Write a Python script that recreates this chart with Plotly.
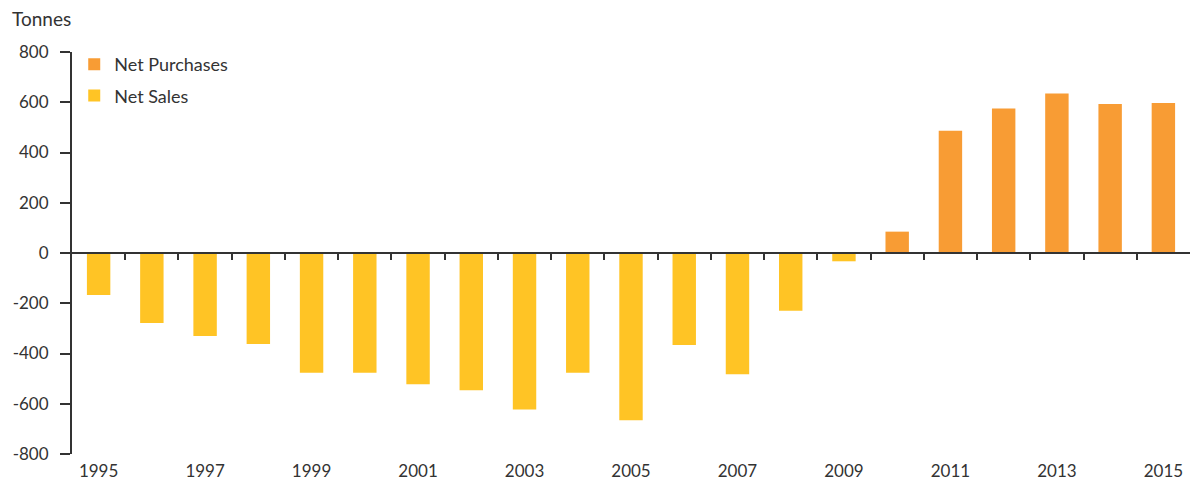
import plotly.graph_objects as go

# Annual central-bank gold flows, tonnes
years = list(range(1995, 2016))
net_flow = [-167, -279, -330, -362, -477, -477, -522, -546, -623, -477,
            -666, -366, -483, -230, -33, 85, 487, 575, 635, 593, 597]

purchase_years = [y for y, v in zip(years, net_flow) if v >= 0]
purchase_vals = [v for v in net_flow if v >= 0]
sale_years = [y for y, v in zip(years, net_flow) if v < 0]
sale_vals = [v for v in net_flow if v < 0]

y_ticks = [-800, -600, -400, -200, 0, 200, 400, 600, 800]
y_tick_text = [str(v) for v in y_ticks]  # plain hyphen for negatives
x_label_years = list(range(1995, 2016, 2))
boundaries = [y + 0.5 for y in years[:-1]]

ORANGE = "#F89C34"
YELLOW = "#FFC425"
INK = "#333333"
FONT = "Lato, Roboto, sans-serif"

fig = go.Figure()
fig.add_trace(go.Bar(x=purchase_years, y=purchase_vals, name="Net Purchases",
                     marker=dict(color=ORANGE, line=dict(width=0)), width=0.44,
                     legendgroup="a"))
fig.add_trace(go.Bar(x=sale_years, y=sale_vals, name="Net Sales",
                     marker=dict(color=YELLOW, line=dict(width=0)), width=0.44,
                     legendgroup="b"))
# carrier trace for the zero-line axis with boundary ticks
fig.add_trace(go.Scatter(x=[years[0]], y=[0], xaxis="x2", mode="markers",
                         marker=dict(opacity=0), showlegend=False, hoverinfo="skip"))

fig.update_layout(
    width=1190, height=482,
    margin=dict(l=72, r=0, t=52, b=28),
    paper_bgcolor="white", plot_bgcolor="white",
    font=dict(family=FONT, size=17, color=INK),
    barmode="relative",
    showlegend=True,
    legend=dict(x=0.002, y=1 + 6 / 402, xanchor="left", yanchor="top",
                traceorder="grouped", tracegroupgap=5,
                font=dict(size=18, color=INK), bgcolor="rgba(0,0,0,0)",
                itemwidth=30),
    xaxis=dict(range=[1994.5, 2015.5], tickmode="array",
               tickvals=x_label_years, ticktext=[str(y) for y in x_label_years],
               showline=False, ticks="", showgrid=False, zeroline=False,
               ticklabelstandoff=5),
    xaxis2=dict(range=[1994.5, 2015.5], overlaying="x", anchor="free",
                position=0.5, side="bottom", showline=True, linecolor=INK,
                linewidth=2, tickmode="array", tickvals=boundaries,
                ticks="outside", ticklen=6, tickwidth=2, tickcolor=INK,
                showticklabels=False, showgrid=False, zeroline=False,
                layer="above traces"),
    yaxis=dict(range=[-800, 800], tickmode="array", tickvals=y_ticks,
               ticktext=y_tick_text, showline=True, linecolor=INK, linewidth=2,
               ticks="outside", ticklen=10, tickwidth=2, tickcolor=INK,
               showgrid=False, zeroline=False, ticklabelstandoff=8),
    annotations=[dict(text="Tonnes", xref="paper", yref="paper",
                      x=-62 / 1118, y=1 + 34 / 402, xanchor="left",
                      yanchor="middle", showarrow=False,
                      font=dict(size=19, color=INK, family=FONT))],
)

fig.write_html("out.html")
